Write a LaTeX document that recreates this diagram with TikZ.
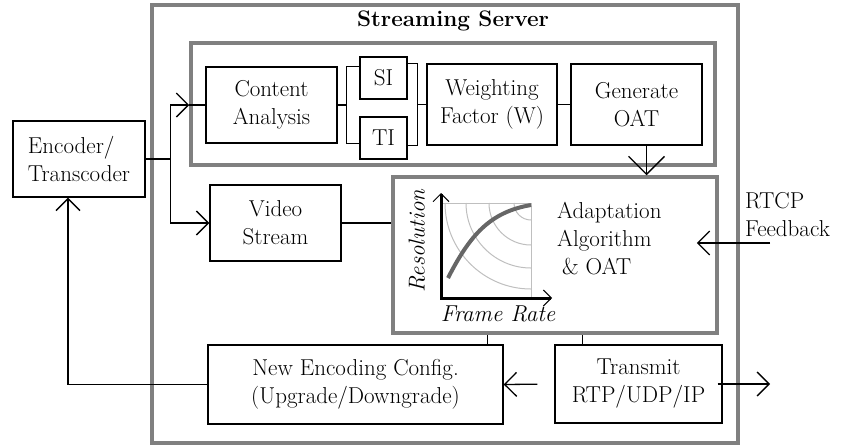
\documentclass[tikz,border=0pt]{standalone}
\usetikzlibrary{arrows.meta,calc}
\tikzset{
  txt/.style={font=\fontsize{23}{28}\selectfont},
  blk/.style={txt, draw=black, line width=1.4pt, inner sep=0pt, align=center},
  grp/.style={draw=gray, line width=3.5pt, inner sep=0pt},
  wire/.style={line width=1.3pt},
  barb/.style={wire, -{Straight Barb[length=12pt,width=24pt]}},
  bigbarb/.style={wire, -{Straight Barb[length=18pt,width=36pt]}},
  axis/.style={line width=3pt, {Straight Barb[length=8pt,width=16pt,line width=1pt]}-{Straight Barb[length=8pt,width=16pt,line width=1pt]}},
  iso/.style={black!25, line width=1pt},
}
\begin{document}
\begin{tikzpicture}[x=1pt,y=-1pt]
\useasboundingbox (0,0) rectangle (853,445);
\node[grp, minimum width=586pt, minimum height=438pt] (srv) at (445,224) {};
\node[grp, minimum width=524pt, minimum height=122pt] (top) at (453,104) {};
\node[font=\fontsize{22.5}{26}\selectfont\bfseries] (title) at (453,21) {Streaming Server};
\node[blk, align=left, minimum width=132pt, minimum height=76pt] (enc) at (79,159) {Encoder/\\Transcoder};
\node[blk, minimum width=131pt, minimum height=76pt] (ca) at (271.5,105) {Content\\Analysis};
\node[blk, minimum width=47pt, minimum height=42pt] (si) at (383.5,78) {SI};
\node[blk, minimum width=47pt, minimum height=42pt] (ti) at (383.5,138) {TI};
\node[blk, minimum width=130pt, minimum height=81pt] (w) at (492,104.5) {Weighting\\Factor (W)};
\node[blk, minimum width=131pt, minimum height=81pt] (gen) at (636.5,104.5) {Generate\\OAT};
\node[blk, minimum width=131pt, minimum height=76pt] (vs) at (275.5,223) {Video\\Stream};
\node[grp, minimum width=324pt, minimum height=156pt] (adapt) at (555,255) {};
\node[blk, minimum width=295pt, minimum height=79pt] (nec) at (355.5,384.5) {New Encoding Config.\\(Upgrade/Downgrade)};
\node[blk, minimum width=167pt, minimum height=78pt] (tx) at (638.5,384) {Transmit\\RTP/UDP/IP};
\node[txt, align=left, anchor=north west, inner sep=0pt] (algo) at (557,202) {Adaptation\\Algorithm\\\hspace{5pt}\&~OAT};
\node[txt, align=left, anchor=north west, inner sep=0pt] (rtcp) at (745,192) {RTCP\\Feedback};

\coordinate (o) at (441,298);
\draw[iso] (o) rectangle (531,203);
\foreach \r in {17,42,65,86}
  \draw[iso] (531,203) ++(-\r,0) arc[start angle=180, end angle=90, radius=\r];
\draw[black!60, line width=4pt] (448,278) .. controls (470,235) and (490,212) .. (531,205);
\draw[axis] (441,193) -- (o) -- (552,298);
\node[txt, font=\fontsize{23}{28}\selectfont\itshape, rotate=90] (ylab) at (417,241) {Resolution};
\node[txt, font=\fontsize{23}{28}\selectfont\itshape] (xlab) at (498,314) {Frame Rate};

\draw[wire] (enc.east) -- ++(25,0) coordinate (split);
\draw[barb] (split) |- (top.west |- ca.west);
\draw[wire] (top.west |- ca.west) -- (ca.west);
\draw[barb] (split) |- (vs.west);
\coordinate (bl) at ($(ca.east)+(9,0)$);
\draw[wire] (ca.east) -- (bl);
\draw[wire] (si.west |- ca.north) -| (bl) |- (ti.west |- ca.south);
\coordinate (br) at ($(w.west)+(-9,0)$);
\draw[wire] (si.east |- w.north) -| (br) -- (w.west);
\draw[wire] (ti.east |- w.south) -| (br);
\draw[wire] (w.east) -- (gen.west);
\draw[bigbarb] ([xshift=10pt]gen.south) -- ([xshift=10pt]gen.south |- adapt.north);
\draw[wire] (vs.east) -- (vs.east -| adapt.west);
\draw[wire] ([xshift=-16pt]nec.north east) -- ([xshift=-16pt]nec.north east |- adapt.south);
\draw[wire] ([xshift=28pt]tx.north west) -- ([xshift=28pt]tx.north west |- adapt.south);
\draw[barb, shorten <=17pt] (tx.west) -- (nec.east);
\coordinate (out) at (770,384);
\draw[barb, shorten <=-5pt] (tx.east) -- (out);
\coordinate (fb) at (770,243);
\coordinate (fbin) at ($(adapt.east |- fb)+(-22,0)$);
\draw[barb] (fb) -- (fbin);
\draw[barb] (nec.west) -| ([xshift=-11pt]enc.south);
\end{tikzpicture}
\end{document}
